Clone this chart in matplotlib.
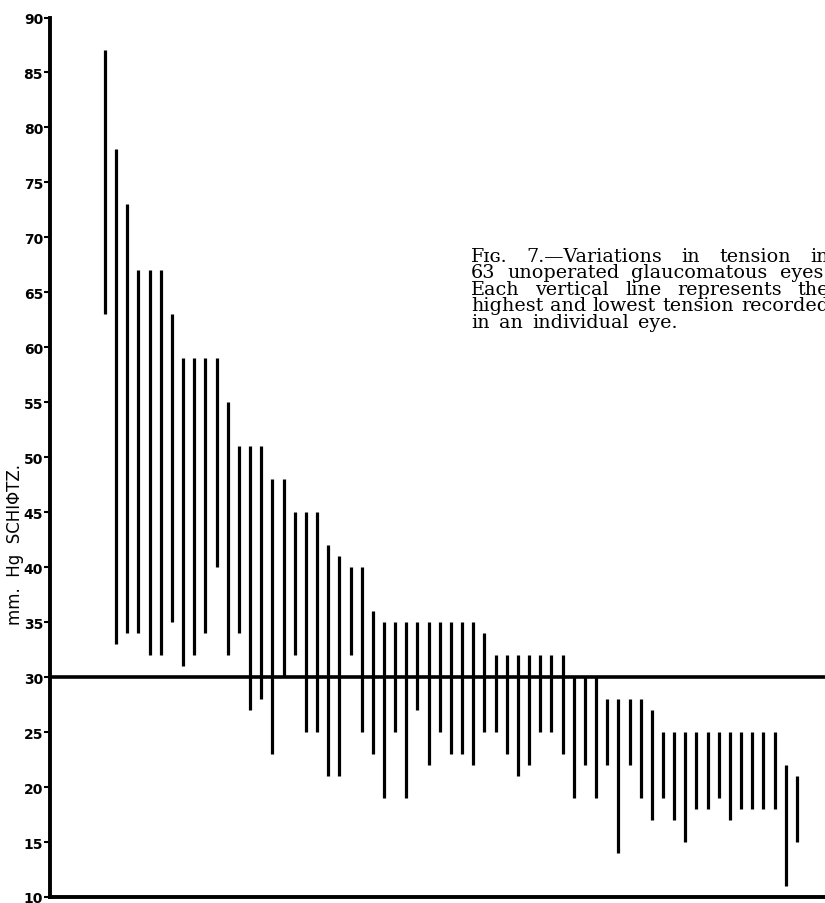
import matplotlib.pyplot as plt

# highest and lowest tension (mm Hg Schiotz) recorded in each eye
highest = [87, 78, 73, 67, 67, 67, 63, 59, 59, 59,
           59, 55, 51, 51, 51, 48, 48, 45, 45, 45,
           42, 41, 40, 40, 36, 35, 35, 35, 35, 35,
           35, 35, 35, 35, 34, 32, 32, 32, 32, 32,
           32, 32, 30, 30, 30, 28, 28, 28, 28, 27,
           25, 25, 25, 25, 25, 25, 25, 25, 25, 25,
           25, 22, 21]
lowest = [63, 33, 34, 34, 32, 32, 35, 31, 32, 34,
          40, 32, 34, 27, 28, 23, 30, 32, 25, 25,
          21, 21, 32, 25, 23, 19, 25, 19, 27, 22,
          25, 23, 23, 22, 25, 25, 23, 21, 22, 25,
          25, 23, 19, 22, 19, 22, 14, 22, 19, 17,
          19, 17, 15, 18, 18, 19, 17, 18, 18, 18,
          18, 11, 15]
eyes = list(range(1, len(highest) + 1))

y_ticks = list(range(10, 95, 5))
caption = ["F\u026a\u0262. 7.\u2014Variations in tension in",
           "63 unoperated glaucomatous eyes.",
           "Each vertical line represents the",
           "highest and lowest tension recorded",
           "in an individual eye."]

W, H = 825, 904
fig = plt.figure(figsize=(W / 100, H / 100), dpi=100)
ax = fig.add_axes([50 / W, 6 / H, 775 / W, 879.5 / H])

ax.vlines(eyes, lowest, highest, color='black', linewidth=2.3)
ax.axhline(30, color='black', linewidth=2.6)

ax.set_xlim(1 - 55 / 11.16, 1 + 720 / 11.16)
ax.set_ylim(10, 90)
ax.set_yticks(y_ticks)
ax.set_yticklabels([str(v) for v in y_ticks], fontsize=10, fontweight='bold')
ax.tick_params(axis='y', direction='out', length=4, width=1.5, pad=1)
ax.set_xticks([])

for side in ['top', 'right']:
    ax.spines[side].set_visible(False)
ax.spines['left'].set_linewidth(2.8)
ax.spines['bottom'].set_linewidth(2.8)

fig.text(15 / W, 1 - 545 / H, "mm.  Hg  SCHI\u03a6TZ.", rotation=90,
         fontsize=12, ha='center', va='center')

# caption set word by word so the first four lines are justified
renderer = fig.canvas.get_renderer()
left, right = 471, 829
cap_font = dict(family='DejaVu Serif', fontsize=13.8, va='baseline', ha='left')
probe = fig.text(0, 0, "a a", **cap_font)
space_w = probe.get_window_extent(renderer).width
probe.set_text("aa")
space_w -= probe.get_window_extent(renderer).width
probe.remove()

for k, line in enumerate(caption):
    y = 1 - (262 + 16.5 * k) / H
    words = [fig.text(0, y, w, **cap_font) for w in line.split()]
    widths = [t.get_window_extent(renderer).width for t in words]
    if k < len(caption) - 1:
        gap = (right - left - sum(widths)) / (len(words) - 1)
        gap = max(gap, space_w)
    else:
        gap = space_w * 1.5
    x = left
    for t, w in zip(words, widths):
        t.set_x(x / W)
        x += w + gap

fig.savefig('out.png', dpi=100)
